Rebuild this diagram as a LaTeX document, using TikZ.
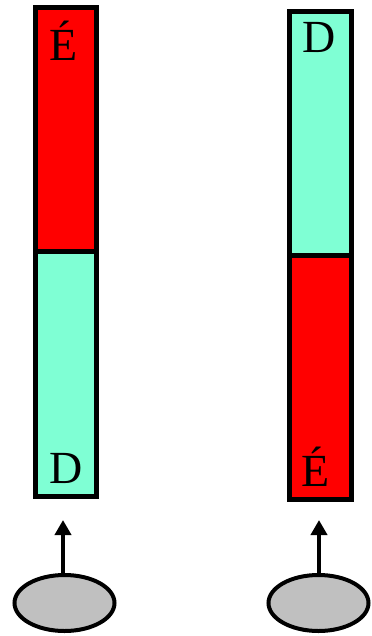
\documentclass[tikz,border=0pt]{standalone}
\usepackage{fontspec}
\setmainfont{Liberation Serif}
\usetikzlibrary{shapes.geometric,arrows.meta}
\definecolor{aqua}{HTML}{7FFFD4}
\definecolor{redf}{HTML}{FF0000}
\definecolor{grayf}{HTML}{C0C0C0}
\begin{document}
\begin{tikzpicture}[x=1bp,y=-1bp,
  half/.style={draw=black,line width=5bp,inner sep=0pt,outer sep=0pt,rectangle},
  blob/.style={draw=black,line width=4bp,fill=grayf,ellipse,inner sep=0pt,minimum width=100bp,minimum height=56bp},
  lbl/.style={anchor=base,inner sep=0pt,font=\fontsize{46bp}{50bp}\selectfont},
  push/.style={line width=4bp,-{Triangle[length=15bp,width=16bp]}}]
\useasboundingbox (0,0) rectangle (371,636);
% left bar
\node[half,fill=redf,minimum width=61.5bp,minimum height=243.5bp] (lt) at (65.75,129.75) {};
\node[half,fill=aqua,minimum width=61.5bp,minimum height=244.5bp] (lb) at (65.75,373.75) {};
% right bar
\node[half,fill=aqua,minimum width=62bp,minimum height=243.5bp] (rt) at (320,133.75) {};
\node[half,fill=redf,minimum width=62bp,minimum height=243.5bp] (rb) at (320,377.25) {};
% labels
\node[lbl] (ltl) at (63.5,61) {É};
\node[lbl] (lbl) at (66,483) {D};
\node[lbl] (rtl) at (319,53) {D};
\node[lbl] (rbl) at (316,486) {É};
% ellipses
\node[blob] (le) at (64.5,603) {};
\node[blob] (re) at (318.5,603) {};
\coordinate (la) at (63,520);
\coordinate (ra) at (319,520);
\draw[push] (le.north -| la) -- (la);
\draw[push] (re.north -| ra) -- (ra);
\end{tikzpicture}
\end{document}
